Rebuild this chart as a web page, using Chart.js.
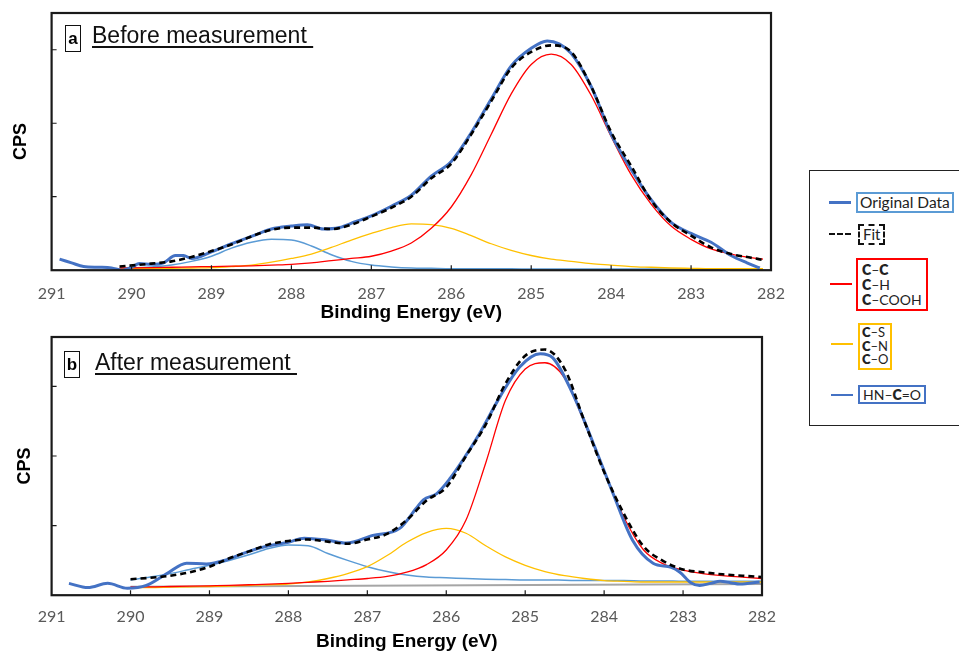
<!DOCTYPE html>
<html>
<head>
<meta charset="utf-8">
<script src="https://cdn.jsdelivr.net/npm/chart.js@4"></script>
<style>
  html, body { margin: 0; padding: 0; background: #fff; overflow: hidden; }
  body { width: 959px; height: 652px; position: relative; font-family: "Liberation Sans", Arial, sans-serif; }
  canvas { position: absolute; left: 0; }
  #cTop { top: 0; }
  #cBot { top: 330px; }
  .tag { position: absolute; border: 1.5px solid #111; font-weight: bold; font-size: 17px; line-height: 25px; text-align: center; width: 14px; height: 25px; }
  .head { position: absolute; font-size: 23px; white-space: pre; text-decoration: underline; text-decoration-thickness: 1.5px; text-underline-offset: 3px; color: #111; }
  #legend { position: absolute; left: 809px; top: 170px; width: 170px; height: 254px; border: 1.5px solid #222; font-family: Lato, sans-serif; }
  .ln { position: absolute; width: 22px; height: 0; }
  .lb { position: absolute; font-size: 14px; line-height: 15px; padding: 1px 3px; color: #222; white-space: nowrap; }
  .lb b { font-weight: 800; }
</style>
</head>
<body>
<canvas id="cTop" width="800" height="330"></canvas>
<canvas id="cBot" width="800" height="330"></canvas>

<div class="tag" style="left:65px; top:25px;">a</div>
<div class="head" style="left:92px; top:22px;">Before measurement </div>
<div class="tag" style="left:64px; top:351px;">b</div>
<div class="head" style="left:95px; top:349px;">After measurement </div>

<div id="legend">
  <div class="ln" style="left:19px; top:30px; border-top:3px solid #4472c4;"></div>
  <div class="lb" style="left:46px; top:21px; border:2px solid #5b9bd5; font-size:15.5px; line-height:15px; padding:1px 2px;">Original Data</div>

  <div class="ln" style="left:19px; top:62px; border-top:2.5px dashed #111;"></div>
  <div class="lb" style="left:48px; top:53px; border:2px dashed #111; font-size:15px;">Fit</div>

  <div class="ln" style="left:20px; top:112px; border-top:2px solid #ff0000;"></div>
  <div class="lb" style="left:46px; top:87px; border:2px solid #ff0000; line-height:15px; padding:2px 4px;"><b>C</b>–<b>C</b><br><b>C</b>–H<br><b>C</b>–COOH</div>

  <div class="ln" style="left:21px; top:172px; border-top:2px solid #ffc000;"></div>
  <div class="lb" style="left:48px; top:152px; border:2px solid #ffc000; font-size:13px; line-height:13.5px; padding:1px 2px;"><b>C</b>–S<br><b>C</b>–N<br><b>C</b>–O</div>

  <div class="ln" style="left:21px; top:223px; border-top:2px solid #4472c4;"></div>
  <div class="lb" style="left:48px; top:214px; border:2px solid #4472c4; padding:0 3px;">HN–<b>C</b>=O</div>
</div>

<script>
Chart.defaults.font.family = 'Lato'
Chart.defaults.color = '#595959'

// energy grids (eV)
const eTop = [290.15, 289.75, 289.5, 289.25, 289, 288.75, 288.5, 288.25, 288, 287.75, 287.5, 287.25, 287, 286.75, 286.5, 286.25, 286, 285.75, 285.5, 285.25, 285, 284.75, 284.5, 284.25, 284, 283.75, 283.5, 283.25, 283, 282.75, 282.5, 282.25, 282.1]
const eBot = [290, 289.75, 289.5, 289.25, 289, 288.75, 288.5, 288.25, 288, 287.75, 287.5, 287.25, 287, 286.75, 286.5, 286.25, 286, 285.75, 285.5, 285.25, 285, 284.75, 284.5, 284.25, 284, 283.75, 283.5, 283.25, 283, 282.75, 282.5, 282.25, 282]

// a - before measurement
const fitTop = [0.05, 0.09, 0.12, 0.18, 0.26, 0.35, 0.46, 0.55, 0.58, 0.58, 0.56, 0.62, 0.73, 0.85, 1.0, 1.25, 1.45, 1.85, 2.3, 2.75, 2.97, 3.06, 2.97, 2.5, 1.88, 1.42, 0.95, 0.65, 0.47, 0.31, 0.22, 0.17, 0.14]
const ccTop = [0.03, 0.035, 0.04, 0.045, 0.05, 0.055, 0.06, 0.07, 0.08, 0.1, 0.13, 0.16, 0.19, 0.26, 0.37, 0.57, 0.86, 1.3, 1.85, 2.4, 2.8, 2.94, 2.8, 2.38, 1.82, 1.3, 0.9, 0.6, 0.42, 0.29, 0.22, 0.17, 0.15]
const csTop = [0.02, 0.02, 0.025, 0.03, 0.035, 0.05, 0.07, 0.11, 0.16, 0.22, 0.31, 0.41, 0.5, 0.58, 0.63, 0.62, 0.57, 0.47, 0.36, 0.27, 0.2, 0.15, 0.12, 0.09, 0.07, 0.05, 0.04, 0.03, 0.025, 0.02, 0.02, 0.02, 0.02]
const hncoTop = [0.025, 0.045, 0.07, 0.12, 0.19, 0.3, 0.38, 0.42, 0.41, 0.33, 0.21, 0.12, 0.07, 0.045, 0.03, 0.025, 0.02, 0.02, 0.02, 0.02, 0.015, 0.015, 0.015, 0.015, 0.015, 0.015, 0.015, 0.015, 0.015, 0.015, 0.015, 0.015, 0.015]
const rawTopE = [290.9, 290.75, 290.6, 290.4, 290.25, 290.12, 290.0, 289.9, 289.75, 289.6, 289.45, 289.35, 289.25, 289.0, 288.75, 288.5, 288.25, 288.0, 287.8, 287.6, 287.4, 287.2, 287.0, 286.75, 286.5, 286.25, 286.0, 285.75, 285.5, 285.25, 285.0, 284.8, 284.65, 284.5, 284.25, 284.0, 283.75, 283.5, 283.25, 283.0, 282.75, 282.5, 282.3, 282.14]
const rawTop = [0.15, 0.1, 0.05, 0.04, 0.03, 0.0, 0.04, 0.09, 0.08, 0.1, 0.2, 0.2, 0.16, 0.25, 0.36, 0.46, 0.56, 0.6, 0.62, 0.56, 0.58, 0.66, 0.74, 0.87, 1.02, 1.28, 1.48, 1.87, 2.33, 2.78, 3.02, 3.12, 3.08, 2.95, 2.5, 1.85, 1.37, 0.96, 0.65, 0.5, 0.38, 0.2, 0.1, 0.03]

// b - after measurement
const fitBot = [0.23, 0.25, 0.28, 0.33, 0.41, 0.53, 0.63, 0.73, 0.78, 0.8, 0.77, 0.74, 0.8, 0.88, 1.08, 1.36, 1.55, 2.0, 2.45, 3.04, 3.44, 3.53, 3.25, 2.5, 1.77, 1.17, 0.7, 0.49, 0.37, 0.33, 0.3, 0.28, 0.26]
const ccBot = [0.12, 0.12, 0.125, 0.13, 0.135, 0.14, 0.15, 0.16, 0.17, 0.185, 0.2, 0.22, 0.24, 0.27, 0.33, 0.44, 0.65, 1.08, 1.9, 2.8, 3.25, 3.34, 3.12, 2.48, 1.78, 1.12, 0.65, 0.45, 0.36, 0.31, 0.28, 0.26, 0.24]
const csBot = [0.11, 0.11, 0.115, 0.12, 0.125, 0.13, 0.14, 0.15, 0.16, 0.19, 0.24, 0.31, 0.41, 0.57, 0.76, 0.9, 0.96, 0.89, 0.71, 0.55, 0.43, 0.34, 0.28, 0.24, 0.21, 0.2, 0.19, 0.19, 0.19, 0.19, 0.19, 0.19, 0.19]
const hncoBot = [0.22, 0.26, 0.31, 0.37, 0.43, 0.5, 0.58, 0.67, 0.72, 0.71, 0.6, 0.5, 0.41, 0.34, 0.29, 0.26, 0.25, 0.24, 0.23, 0.225, 0.22, 0.22, 0.215, 0.21, 0.21, 0.21, 0.205, 0.205, 0.2, 0.2, 0.2, 0.2, 0.2]
const rawBotE = [290.78, 290.54, 290.29, 290.04, 289.8, 289.54, 289.29, 289.04, 288.78, 288.5, 288.25, 288.0, 287.8, 287.5, 287.27, 286.93, 286.59, 286.38, 286.29, 286.12, 285.95, 285.79, 285.58, 285.32, 285.07, 284.81, 284.65, 284.4, 284.14, 283.89, 283.64, 283.38, 283.15, 283.04, 282.9, 282.79, 282.65, 282.53, 282.4, 282.28, 282.03]
const rawBot = [0.17, 0.11, 0.17, 0.1, 0.14, 0.31, 0.46, 0.45, 0.51, 0.63, 0.71, 0.76, 0.82, 0.79, 0.75, 0.86, 0.96, 1.25, 1.37, 1.46, 1.68, 1.94, 2.32, 2.85, 3.28, 3.47, 3.41, 2.9, 2.19, 1.47, 0.79, 0.46, 0.4, 0.33, 0.18, 0.14, 0.17, 0.2, 0.18, 0.16, 0.19]
const bgBotE = [290, 282]
const bgBot = [0.12, 0.16]

const pts = (xs, ys) => xs.map((x, i) => ({x, y: ys[i]}))

// box around the plot + short inward ticks
const framePlugin = {
    id: 'frame',
    afterDatasetsDraw(chart) {
        const {ctx, chartArea: a, scales: {x, y}} = chart
        ctx.save()
        ctx.strokeStyle = '#1a1a1a'
        ctx.lineWidth = 1.2
        ctx.beginPath()
        x.ticks.forEach(t => {
            if (t.value <= x.min || t.value >= x.max) return
            const px = x.getPixelForValue(t.value)
            ctx.moveTo(px, a.bottom)
            ctx.lineTo(px, a.bottom - 5)
        })
        y.ticks.forEach(t => {
            if (t.value <= y.min || t.value >= y.max) return
            const py = y.getPixelForValue(t.value)
            ctx.moveTo(a.left, py)
            ctx.lineTo(a.left + 5, py)
        })
        ctx.stroke()
        ctx.lineWidth = 2.2
        ctx.strokeRect(a.left, a.top, a.right - a.left, a.bottom - a.top)
        ctx.restore()
    }
}

const line = (data, color, width, extra = {}) => ({
    data, borderColor: color, borderWidth: width, pointRadius: 0,
    cubicInterpolationMode: 'monotone', fill: false, ...extra
})

const makeChart = (el, sets, ymax, pad, tickPad, titlePad, cpsPad) => new Chart(el, {
    type: 'line',
    data: { datasets: sets },
    options: {
        responsive: false,
        animation: false,
        events: [],
        layout: { padding: pad },
        plugins: { legend: { display: false }, tooltip: { enabled: false } },
        scales: {
            x: {
                type: 'linear', reverse: true, min: 282, max: 291,
                grid: { display: false, drawTicks: false },
                border: { display: false },
                ticks: { stepSize: 1, padding: tickPad, color: '#595959', font: { size: 16 } },
                title: { display: true, text: 'Binding Energy (eV)', color: '#000', padding: titlePad,
                         font: { family: 'Liberation Sans', size: 19, weight: 'bold' } }
            },
            y: {
                min: 0, max: ymax,
                grid: { display: false, drawTicks: false },
                border: { display: false },
                ticks: { display: false, stepSize: 1 },
                title: { display: true, text: 'CPS', color: '#000', padding: cpsPad,
                         font: { family: 'Liberation Sans', size: 18, weight: 'bold' } }
            }
        }
    },
    plugins: [framePlugin]
})

makeChart(document.getElementById('cTop'), [
    line(pts(eTop, fitTop), '#000000', 2.6, { borderDash: [6, 4], order: 0 }),
    line(pts(rawTopE, rawTop), '#4472c4', 3, { order: 1 }),
    line(pts(eTop, ccTop), '#ff0000', 1.3, { order: 2 }),
    line(pts(eTop, csTop), '#ffc000', 1.3, { order: 3 }),
    line(pts(eTop, hncoTop), '#5b9bd5', 1.5, { order: 4 })
], 3.5, { left: 0, right: 29, top: 13, bottom: 6 }, 14, { top: -16.2, bottom: 0 }, { top: 10, bottom: 20 })

makeChart(document.getElementById('cBot'), [
    line(pts(eBot, fitBot), '#000000', 2.6, { borderDash: [6, 4], order: 0 }),
    line(pts(rawBotE, rawBot), '#4472c4', 3, { order: 1 }),
    line(pts(eBot, ccBot), '#ff0000', 1.3, { order: 2 }),
    line(pts(eBot, csBot), '#ffc000', 1.3, { order: 3 }),
    line(pts(eBot, hncoBot), '#5b9bd5', 1.5, { order: 4 }),
    line(pts(bgBotE, bgBot), '#a6a6a6', 2, { order: 5, cubicInterpolationMode: 'default', tension: 0 })
], 3.71, { left: 0, right: 38, top: 7, bottom: 7 }, 12.5, { top: -9.2, bottom: 0 }, { top: 14, bottom: 16 })
</script>
</body>
</html>
